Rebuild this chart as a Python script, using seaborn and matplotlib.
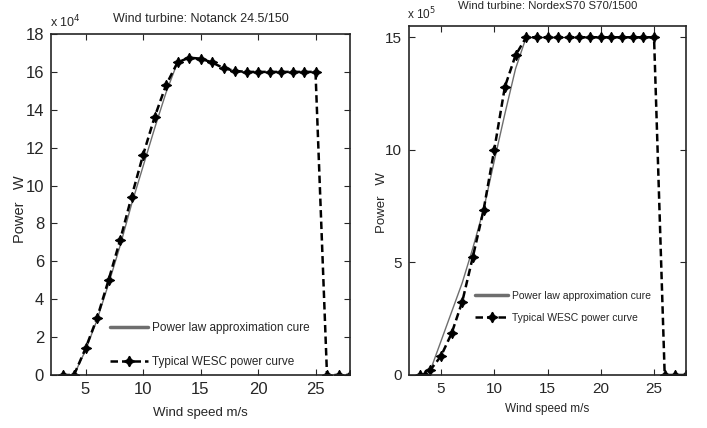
import matplotlib
matplotlib.use("Agg")
import matplotlib.pyplot as plt
from matplotlib.lines import Line2D
import seaborn as sns

# Notanck 24.5/150 (x 10^4 W)
left_speed = [3, 4, 5, 6, 7, 8, 9, 10, 11, 12, 13, 14, 15, 16, 17, 18, 19, 20,
              21, 22, 23, 24, 25, 26, 27, 28]
left_wesc = [0, 0, 1.4, 3.0, 5.0, 7.1, 9.4, 11.6, 13.6, 15.3, 16.5, 16.75, 16.7,
             16.5, 16.2, 16.05, 16, 16, 16, 16, 16, 16, 16, 0, 0, 0]
left_law_speed = [4, 5, 6, 7, 8, 9, 10, 11, 12, 13]
left_law = [0, 1.3, 2.9, 4.8, 6.8, 9.0, 11.0, 13.0, 14.9, 16.5]

# NordexS70 S70/1500 (x 10^5 W)
right_speed = [3, 3.5, 4, 5, 6, 7, 8, 9, 10, 11, 12, 13, 14, 15, 16, 17, 18, 19,
               20, 21, 22, 23, 24, 25, 26, 27, 28]
right_wesc = [0, 0, 0.22, 0.84, 1.85, 3.26, 5.26, 7.33, 10.0, 12.8, 14.2, 15,
              15, 15, 15, 15, 15, 15, 15, 15, 15, 15, 15, 15, 0, 0, 0]
right_law_speed = [4, 5, 6, 7, 8, 9, 10, 11, 12, 13]
right_law = [0.2, 1.5, 2.8, 4.1, 5.65, 7.35, 9.5, 11.6, 13.6, 15]

titles = ["Wind turbine: Notanck 24.5/150", "Wind turbine: NordexS70 S70/1500"]
labels = ["Power law approximation cure", "Typical WESC power curve"]

sns.set_style("ticks")
plt.rcParams['font.family'] = ['Liberation Sans', 'DejaVu Sans']

fig = plt.figure(figsize=(7.07, 4.28), dpi=100)
ax1 = fig.add_axes([51/707, 53/428, 299/707, 341/428])
ax2 = fig.add_axes([409/707, 53/428, 277/707, 349/428])

star = (4, 1, 0)
dash = (0, (3, 1.6))

def draw(ax, spd, wesc, lspd, law, fs):
    sns.lineplot(x=lspd, y=law, ax=ax, color="#6e6e6e", lw=1.0, legend=False)
    sns.lineplot(x=spd, y=wesc, ax=ax, color="black", lw=1.8, linestyle=dash,
                 marker=star, markersize=7.5, markeredgecolor="black",
                 markerfacecolor="black", legend=False)
    ax.set_xlim(2, 28)
    ax.set_xticks([5, 10, 15, 20, 25])
    ax.tick_params(direction="in", top=True, right=True, length=4, width=0.8,
                   labelsize=fs, pad=5)
    for s in ax.spines.values():
        s.set_visible(True)
        s.set_linewidth(1.2)
    ax.set_ylabel("")

draw(ax1, left_speed, left_wesc, left_law_speed, left_law, 12)
draw(ax2, right_speed, right_wesc, right_law_speed, right_law, 11)

ax1.set_ylim(0, 18)
ax1.set_yticks(range(0, 19, 2))
ax2.set_ylim(0, 15.5)
ax2.set_yticks([0, 5, 10, 15])

ax1.set_xlabel("Wind speed m/s", fontsize=9.5, labelpad=7)
ax2.set_xlabel("Wind speed m/s", fontsize=8.5, labelpad=5)

ax1.set_title(titles[0], fontsize=9, pad=9)
ax2.set_title(titles[1], fontsize=8.2, pad=12)

fig.text(20/707, 1 - 209/428, "Power   W", rotation=90, ha="center", va="center", fontsize=10.5)
fig.text(382/707, 1 - 203/428, "Power   W", rotation=90, ha="center", va="center", fontsize=9.5)

fig.text(50/707, 1 - 27/428, r"x 10$^{4}$", fontsize=9, ha="left", va="baseline")
fig.text(407/707, 1 - 19/428, r"x 10$^{5}$", fontsize=8.5, ha="left", va="baseline")

handles = [Line2D([], [], color="#6e6e6e", lw=2.5),
           Line2D([], [], color="black", lw=1.8, linestyle=dash,
                  marker=star, markersize=7.5)]
ax1.legend(handles, labels, loc="upper left", bbox_to_anchor=(110/707, 1 - 322/428),
           bbox_transform=fig.transFigure, borderpad=0, borderaxespad=0,
           frameon=False, fontsize=8.5, handlelength=3.2, handletextpad=0.4,
           labelspacing=1.9)
ax2.legend(handles, labels, loc="upper left", bbox_to_anchor=(475/707, 1 - 291/428),
           bbox_transform=fig.transFigure, borderpad=0, borderaxespad=0,
           frameon=False, fontsize=7.5, handlelength=3.2, handletextpad=0.4,
           labelspacing=1.15)

fig.savefig("out.png", dpi=100)
